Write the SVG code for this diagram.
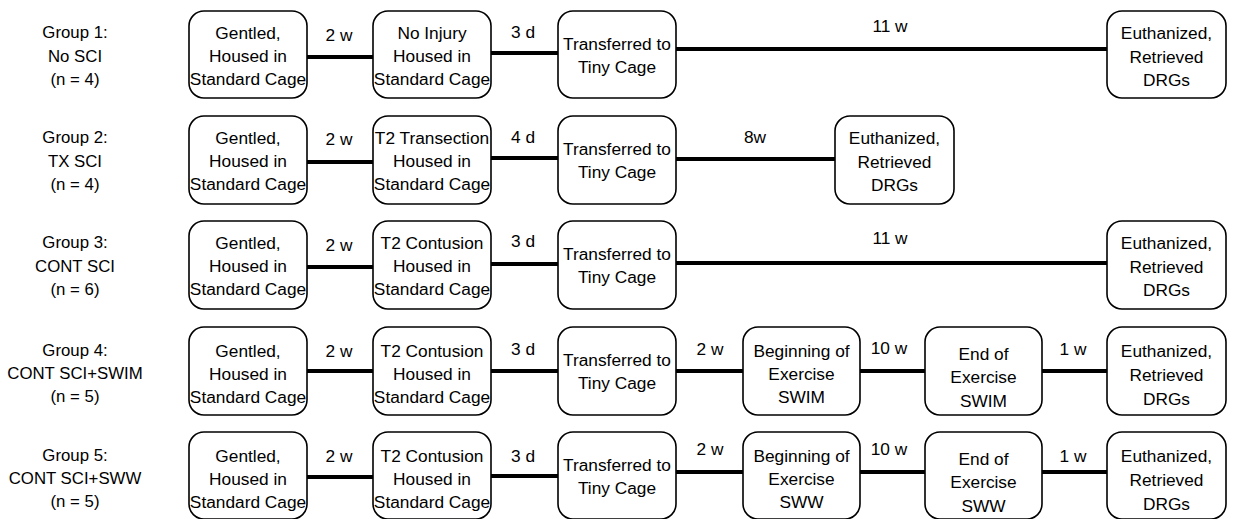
<svg xmlns="http://www.w3.org/2000/svg" width="1233" height="519" viewBox="0 0 1233 519">
<style>
.b{fill:#fff;stroke:#000;stroke-width:1.6}
.t{font-family:"Liberation Sans",Arial,sans-serif;font-size:17.3px;fill:#000;text-anchor:middle}
.g{font-family:"Liberation Sans",Arial,sans-serif;font-size:16.8px;fill:#000;text-anchor:middle}
.c{stroke:#000;stroke-width:4;fill:none}
</style>
<rect width="1233" height="519" fill="#fff"/>
<g id="connectors">
<line class="c" x1="307" y1="57" x2="373" y2="57"/>
<line class="c" x1="491" y1="53" x2="558" y2="53"/>
<line class="c" x1="676" y1="49" x2="1107" y2="49"/>
<line class="c" x1="307" y1="162" x2="373" y2="162"/>
<line class="c" x1="491" y1="158" x2="558" y2="158"/>
<line class="c" x1="676" y1="159" x2="835" y2="159"/>
<line class="c" x1="307" y1="267" x2="373" y2="267"/>
<line class="c" x1="491" y1="264" x2="558" y2="264"/>
<line class="c" x1="676" y1="263" x2="1107" y2="263"/>
<line class="c" x1="307" y1="371" x2="373" y2="371"/>
<line class="c" x1="491" y1="371" x2="558" y2="371"/>
<line class="c" x1="676" y1="371" x2="743" y2="371"/>
<line class="c" x1="860" y1="371" x2="925" y2="371"/>
<line class="c" x1="1042" y1="371" x2="1107" y2="371"/>
<line class="c" x1="307" y1="477" x2="373" y2="477"/>
<line class="c" x1="491" y1="476" x2="558" y2="476"/>
<line class="c" x1="676" y1="472" x2="743" y2="472"/>
<line class="c" x1="860" y1="472" x2="925" y2="472"/>
<line class="c" x1="1042" y1="472" x2="1107" y2="472"/>
<text class="t" x="339" y="41">2 w</text>
<text class="t" x="523" y="38">3 d</text>
<text class="t" x="890" y="32">11 w</text>
<text class="t" x="339" y="145">2 w</text>
<text class="t" x="523" y="143">4 d</text>
<text class="t" x="755" y="143">8w</text>
<text class="t" x="339" y="251">2 w</text>
<text class="t" x="523" y="247">3 d</text>
<text class="t" x="890" y="244">11 w</text>
<text class="t" x="339" y="357">2 w</text>
<text class="t" x="523" y="355">3 d</text>
<text class="t" x="710" y="355">2 w</text>
<text class="t" x="889" y="354">10 w</text>
<text class="t" x="1073" y="355">1 w</text>
<text class="t" x="339" y="462">2 w</text>
<text class="t" x="523" y="462">3 d</text>
<text class="t" x="710" y="455">2 w</text>
<text class="t" x="889" y="455">10 w</text>
<text class="t" x="1073" y="462">1 w</text>
</g>
<g id="label1"><text class="g" x="75" y="38">Group 1:</text><text class="g" x="75" y="62">No SCI</text><text class="g" x="75" y="85">(n = 4)</text></g>
<g id="label2"><text class="g" x="75" y="143">Group 2:</text><text class="g" x="75" y="167">TX SCI</text><text class="g" x="75" y="190">(n = 4)</text></g>
<g id="label3"><text class="g" x="75" y="248">Group 3:</text><text class="g" x="75" y="272">CONT SCI</text><text class="g" x="75" y="295">(n = 6)</text></g>
<g id="label4"><text class="g" x="75" y="356">Group 4:</text><text class="g" x="75" y="379">CONT SCI+SWIM</text><text class="g" x="75" y="402">(n = 5)</text></g>
<g id="label5"><text class="g" x="75" y="461">Group 5:</text><text class="g" x="75" y="484">CONT SCI+SWW</text><text class="g" x="75" y="507">(n = 5)</text></g>

<g id="r1a"><rect class="b" x="189" y="11" width="118" height="87" rx="15"/><text class="t" x="248" y="39">Gentled,</text><text class="t" x="248" y="62">Housed in</text><text class="t" x="248" y="85">Standard Cage</text></g>
<g id="r1b"><rect class="b" x="373" y="11" width="118" height="87" rx="15"/><text class="t" x="432" y="39">No Injury</text><text class="t" x="432" y="62">Housed in</text><text class="t" x="432" y="85">Standard Cage</text></g>
<g id="r1c"><rect class="b" x="558" y="11" width="118" height="87" rx="15"/><text class="t" x="617" y="50">Transferred to</text><text class="t" x="617" y="73">Tiny Cage</text></g>
<g id="r1f"><rect class="b" x="1107" y="11" width="119" height="87" rx="15"/><text class="t" x="1166.5" y="39">Euthanized,</text><text class="t" x="1166.5" y="63">Retrieved</text><text class="t" x="1166.5" y="86">DRGs</text></g>

<g id="r2a"><rect class="b" x="189" y="116" width="118" height="88" rx="15"/><text class="t" x="248" y="144">Gentled,</text><text class="t" x="248" y="167">Housed in</text><text class="t" x="248" y="190">Standard Cage</text></g>
<g id="r2b"><rect class="b" x="373" y="116" width="118" height="88" rx="15"/><text class="t" x="432" y="144">T2 Transection</text><text class="t" x="432" y="167">Housed in</text><text class="t" x="432" y="190">Standard Cage</text></g>
<g id="r2c"><rect class="b" x="558" y="116" width="118" height="88" rx="15"/><text class="t" x="617" y="155">Transferred to</text><text class="t" x="617" y="178">Tiny Cage</text></g>
<g id="r2f"><rect class="b" x="835" y="116" width="119" height="88" rx="15"/><text class="t" x="894.5" y="144">Euthanized,</text><text class="t" x="894.5" y="168">Retrieved</text><text class="t" x="894.5" y="191">DRGs</text></g>

<g id="r3a"><rect class="b" x="189" y="221" width="118" height="88" rx="15"/><text class="t" x="248" y="249">Gentled,</text><text class="t" x="248" y="272">Housed in</text><text class="t" x="248" y="295">Standard Cage</text></g>
<g id="r3b"><rect class="b" x="373" y="221" width="118" height="88" rx="15"/><text class="t" x="432" y="249">T2 Contusion</text><text class="t" x="432" y="272">Housed in</text><text class="t" x="432" y="295">Standard Cage</text></g>
<g id="r3c"><rect class="b" x="558" y="221" width="118" height="88" rx="15"/><text class="t" x="617" y="260">Transferred to</text><text class="t" x="617" y="283">Tiny Cage</text></g>
<g id="r3f"><rect class="b" x="1107" y="221" width="119" height="88" rx="15"/><text class="t" x="1166.5" y="249">Euthanized,</text><text class="t" x="1166.5" y="273">Retrieved</text><text class="t" x="1166.5" y="296">DRGs</text></g>

<g id="r4a"><rect class="b" x="189" y="327" width="118" height="88" rx="15"/><text class="t" x="248" y="357">Gentled,</text><text class="t" x="248" y="380">Housed in</text><text class="t" x="248" y="403">Standard Cage</text></g>
<g id="r4b"><rect class="b" x="373" y="327" width="118" height="88" rx="15"/><text class="t" x="432" y="357">T2 Contusion</text><text class="t" x="432" y="380">Housed in</text><text class="t" x="432" y="403">Standard Cage</text></g>
<g id="r4c"><rect class="b" x="558" y="327" width="118" height="88" rx="15"/><text class="t" x="617" y="366">Transferred to</text><text class="t" x="617" y="389">Tiny Cage</text></g>
<g id="r4d"><rect class="b" x="743" y="327" width="117" height="88" rx="15"/><text class="t" x="801.5" y="357">Beginning of</text><text class="t" x="801.5" y="380">Exercise</text><text class="t" x="801.5" y="403">SWIM</text></g>
<g id="r4e"><rect class="b" x="925" y="327" width="117" height="88" rx="15"/><text class="t" x="983.5" y="360">End of</text><text class="t" x="983.5" y="383">Exercise</text><text class="t" x="983.5" y="407">SWIM</text></g>
<g id="r4f"><rect class="b" x="1107" y="327" width="119" height="88" rx="15"/><text class="t" x="1166.5" y="357">Euthanized,</text><text class="t" x="1166.5" y="381">Retrieved</text><text class="t" x="1166.5" y="405">DRGs</text></g>

<g id="r5a"><rect class="b" x="189" y="432" width="118" height="87" rx="15"/><text class="t" x="248" y="462">Gentled,</text><text class="t" x="248" y="485">Housed in</text><text class="t" x="248" y="508">Standard Cage</text></g>
<g id="r5b"><rect class="b" x="373" y="432" width="118" height="87" rx="15"/><text class="t" x="432" y="462">T2 Contusion</text><text class="t" x="432" y="485">Housed in</text><text class="t" x="432" y="508">Standard Cage</text></g>
<g id="r5c"><rect class="b" x="558" y="432" width="118" height="87" rx="15"/><text class="t" x="617" y="471">Transferred to</text><text class="t" x="617" y="494">Tiny Cage</text></g>
<g id="r5d"><rect class="b" x="743" y="432" width="117" height="87" rx="15"/><text class="t" x="801.5" y="462">Beginning of</text><text class="t" x="801.5" y="485">Exercise</text><text class="t" x="801.5" y="508">SWW</text></g>
<g id="r5e"><rect class="b" x="925" y="432" width="117" height="87" rx="15"/><text class="t" x="983.5" y="465">End of</text><text class="t" x="983.5" y="488">Exercise</text><text class="t" x="983.5" y="512">SWW</text></g>
<g id="r5f"><rect class="b" x="1107" y="432" width="119" height="87" rx="15"/><text class="t" x="1166.5" y="462">Euthanized,</text><text class="t" x="1166.5" y="486">Retrieved</text><text class="t" x="1166.5" y="510">DRGs</text></g>
</svg>
